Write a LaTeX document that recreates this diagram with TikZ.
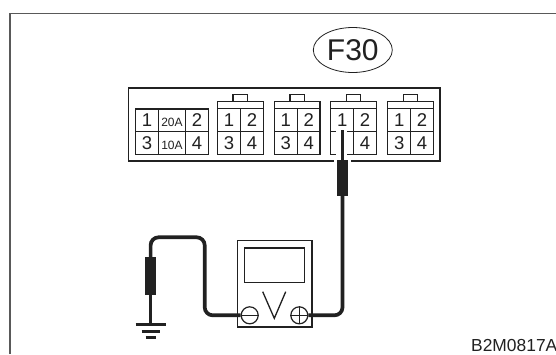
\documentclass[tikz,border=0pt]{standalone}
\usepackage{fontspec}
\setmainfont{Liberation Sans}
\usetikzlibrary{shapes.geometric}
\definecolor{ink}{gray}{0.13}
\begin{document}
\begin{tikzpicture}[x=1pt,y=-1pt,
  frameln/.style={draw=ink!75,line width=1.6pt},
  boxln/.style={draw=ink,line width=1.3pt},
  wire/.style={draw=ink,line width=3.7pt,rounded corners=8pt},
  probe/.style={fill=ink,draw=none,inner sep=0pt,rectangle},
  lbl/.style={inner sep=0pt,text=ink,font=\fontsize{18.5}{18.5}\selectfont},
  small/.style={inner sep=0pt,text=ink,font=\fontsize{12}{12}\selectfont},
  term/.style={circle,draw=ink,line width=1.2pt,minimum size=17pt,inner sep=0pt}]
\useasboundingbox (0,0) rectangle (556,354);
\fill[white] (0,0) rectangle (556,354);
\draw[frameln] (10,354) -- (10,13.3) -- (556,13.3);
% tag
\node[ellipse,draw=ink,line width=0.8pt,minimum width=79pt,minimum height=45pt,inner sep=0pt,text=ink,font=\fontsize{30}{30}\selectfont] (tag) at (352.8,50) {F30};
% panel
\draw[draw=ink,line width=1.7pt] (128.5,88) rectangle (440,160.7);
% fuse block
\draw[boxln] (135.7,109) rectangle (208.3,154.5);
\draw[boxln] (135.7,131.7) -- (208.3,131.7) (158.3,109) -- (158.3,154.5) (185.7,109) -- (185.7,154.5);
\node[lbl] (f1) at (147,120.5) {1};
\node[lbl] (f2) at (197,120.5) {2};
\node[lbl] (f3) at (147,143.5) {3};
\node[lbl] (f4) at (197,143.5) {4};
\node[small] (fa) at (172,122.5) {20A};
\node[small] (fb) at (172,145) {10A};
% connectors
\foreach \n/\x in {a/217.5,b/274.3,c/330.7,d/387.7}{
  \draw[boxln] (\x,101.7) rectangle (\x+45.8,154.5);
  \draw[boxln] (\x,108.4) -- (\x+45.8,108.4);
  \draw[boxln] (\x,131.7) -- (\x+45.8,131.7);
  \draw[boxln] (\x+22.9,108.4) -- (\x+22.9,154.5);
  \draw[boxln] (\x+15.6,101.7) -- (\x+15.6,94.7) -- (\x+30,94.7) -- (\x+30,101.7);
  \node[lbl] (\n1) at (\x+11.5,120.5) {1};
  \node[lbl] (\n2) at (\x+34.4,120.5) {2};
  \node[lbl] (\n3) at (\x+11.5,143.5) {3};
  \node[lbl] (\n4) at (\x+34.4,143.5) {4};
}
% gap cleared round the test wire
\fill[white] (335.7,130) rectangle (346.5,156);
\fill[white] (334,158) rectangle (350.7,163);
% meter
\node[draw=ink,line width=1.4pt,rectangle,minimum width=74.3pt,minimum height=86.3pt,inner sep=0pt] (meter) at (274.9,283.9) {};
\node[draw=ink,line width=1.2pt,rectangle,minimum width=60.4pt,minimum height=34.7pt,inner sep=0pt] (screen) at (274.5,265.4) {};
\draw[draw=ink,line width=1.3pt,line join=miter] (262.7,291.7) -- (274.3,318.3) -- (285.7,291.7);
\node[term] (minus) at (249.7,315.3) {};
\node[term] (plus) at (299.3,315.3) {};
\draw[boxln] (minus.west) -- (minus.east);
\draw[boxln] (plus.west) -- (plus.east) (plus.north) -- (plus.south);
% probes
\node[probe,minimum width=11.6pt,minimum height=36pt] (probeR) at (342.5,178) {};
\node[probe,minimum width=11pt,minimum height=38pt] (probeL) at (150.6,276) {};
% wires
\coordinate (tip) at (342.5,130);
\coordinate (upL) at (204.7,237.3);
\coordinate (gnd) at (150.6,324.5);
\draw[wire] (plus.east) -| (probeR.south);
\draw[wire] (probeR.north) -- (tip);
\draw[wire] (minus.west) -| (upL) -| (probeL.north);
\draw[wire] (probeL.south) -- (gnd);
% ground
\draw[draw=ink,line width=2.6pt] ([xshift=-15pt]gnd) -- ([xshift=15pt]gnd);
\draw[draw=ink,line width=2.6pt] ([xshift=-9pt,yshift=-6.8pt]gnd) -- ([xshift=9pt,yshift=-6.8pt]gnd);
\draw[draw=ink,line width=2.6pt] ([xshift=-5pt,yshift=-13.2pt]gnd) -- ([xshift=5pt,yshift=-13.2pt]gnd);
% code
\node[anchor=base west,inner sep=0pt,text=ink,font=\fontsize{17.4}{17.4}\selectfont] (code) at (471,351.5) {B2M0817A};
\end{tikzpicture}
\end{document}
